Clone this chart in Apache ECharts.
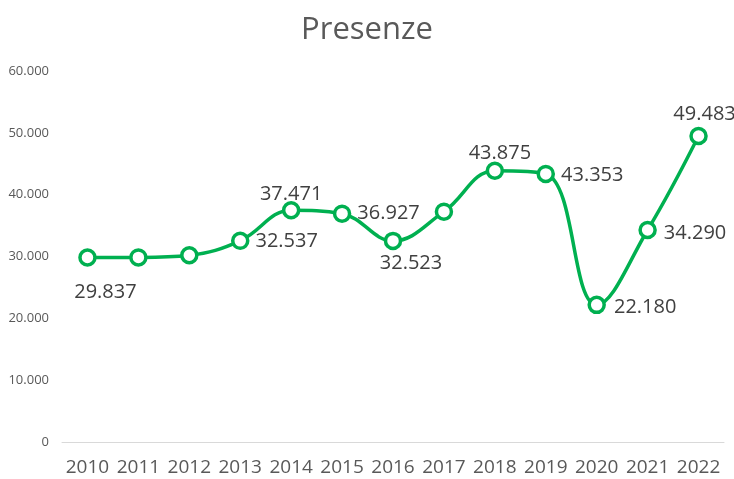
<!DOCTYPE html>
<html>
<head>
<meta charset="utf-8">
<script src="https://cdn.jsdelivr.net/npm/echarts@6/dist/echarts.min.js"></script>
<style>
  html, body { margin: 0; padding: 0; background: #fff; }
  #chart { width: 734px; height: 479px; }
</style>
</head>
<body>
<div id="chart"></div>
<script>
// dati
const years = ['2010', '2011', '2012', '2013', '2014', '2015', '2016', '2017', '2018', '2019', '2020', '2021', '2022'];
const presenze = [29837, 29850, 30200, 32537, 37471, 36927, 32523, 37250, 43875, 43353, 22180, 34290, 49483];
const yTicks = [0, 10000, 20000, 30000, 40000, 50000, 60000];

// posizione etichette: [posizione, dx, dy] oppure null = nessuna etichetta
const labelPlace = [
    ['bottom', 18, 10], null, null, ['right', 0, 0], ['top', 0, 9], ['right', 0, 0],
    ['bottom', 18, -3], null, ['top', 5, 8], ['right', 0, 1], ['right', 2, 2],
    ['right', 1, 3], ['top', 6, 4]
];

const fmt = function (v) {
    return String(Math.round(v)).replace(/\B(?=(\d{3})+(?!\d))/g, '.');
};

const chart = echarts.init(document.getElementById('chart'));

const seriesData = presenze.map(function (v, i) {
    const p = labelPlace[i];
    if (!p) {
        return { value: v, label: { show: false } };
    }
    return {
        value: v,
        label: {
            show: true,
            position: p[0],
            distance: 6,
            offset: [p[1], p[2]]
        }
    };
});

const option = {
    backgroundColor: '#fff',
    title: {
        text: 'Presenze',
        left: 'center',
        top: 10,
        textStyle: {
            fontFamily: 'Open Sans',
            fontSize: 31,
            fontWeight: 'normal',
            color: '#595959'
        }
    },
    grid: {
        left: 62,
        right: 10,
        top: 71,
        bottom: 37
    },
    xAxis: {
        type: 'category',
        data: years,
        boundaryGap: true,
        axisLine: { show: true, lineStyle: { color: '#d9d9d9', width: 1 } },
        axisTick: { show: false },
        axisLabel: {
            interval: 0,
            margin: 16,
            fontFamily: 'Open Sans',
            fontSize: 19,
            color: '#595959'
        }
    },
    yAxis: {
        type: 'value',
        min: yTicks[0],
        max: yTicks[yTicks.length - 1],
        interval: yTicks[1] - yTicks[0],
        axisLine: { show: false },
        axisTick: { show: false },
        splitLine: { show: false },
        axisLabel: {
            margin: 13,
            fontFamily: 'Open Sans',
            fontSize: 13,
            color: '#595959',
            formatter: fmt
        }
    },
    series: [{
        type: 'line',
        data: seriesData,
        smooth: 0.4,
        symbol: 'circle',
        symbolSize: 15,
        lineStyle: { color: '#00B050', width: 3.5 },
        itemStyle: { color: '#ffffff', borderColor: '#00B050', borderWidth: 3.5 },
        label: {
            fontFamily: 'Open Sans',
            fontSize: 20,
            color: '#404040',
            formatter: function (p) { return fmt(p.value); }
        },
        emphasis: { disabled: true },
        z: 3
    }],
    animation: false
};

chart.setOption(option);
</script>
</body>
</html>
